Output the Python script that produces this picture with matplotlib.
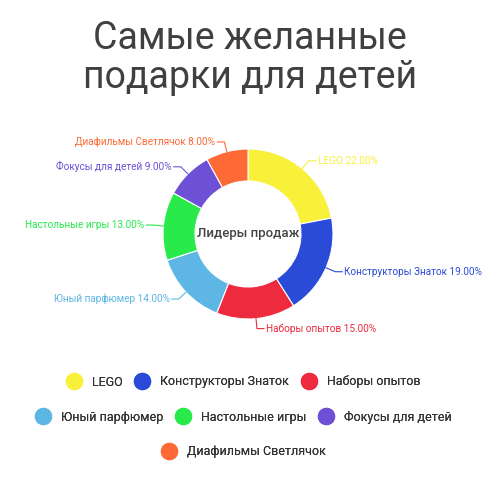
import numpy as np
import matplotlib
matplotlib.use("Agg")
from matplotlib import pyplot as plt
from matplotlib.lines import Line2D

plt.rcParams['font.family'] = ['Roboto', 'DejaVu Sans']

categories = ["LEGO", "Конструкторы Знаток", "Наборы опытов", "Юный парфюмер",
              "Настольные игры", "Фокусы для детей", "Диафильмы Светлячок"]
values = [22, 19, 15, 14, 13, 9, 8]
colors = ["#f9f03a", "#2a4bd7", "#ee2a3e", "#5db6e3", "#28ea4a", "#6e50d6", "#fd6a35"]
title = "Самые желанные\nподарки для детей"
center_text = "Лидеры продаж"

fig = plt.figure(figsize=(5, 5), dpi=100)
ax = fig.add_axes([0, 0, 1, 1])

cx, cy = 248, 266
r_out = 85
wedges, _ = ax.pie(values, colors=colors, startangle=90, counterclock=False,
                   radius=r_out, center=(cx, cy),
                   wedgeprops=dict(width=32, edgecolor="white", linewidth=0.8))

total = sum(values)
for w, name, v, c in zip(wedges, categories, values, colors):
    ang = np.deg2rad((w.theta1 + w.theta2) / 2)
    ex, ey = cx + r_out * np.cos(ang), cy + r_out * np.sin(ang)
    kx, ky = cx + 95 * np.cos(ang), cy + 95 * np.sin(ang)
    side = 1 if np.cos(ang) >= 0 else -1
    ax.plot([ex, kx, kx + side * 7], [ey, ky, ky], color=c, lw=0.8)
    ax.text(kx + side * 9, ky, f"{name} {v / total * 100:.2f}%", color=c,
            fontsize=7.2, ha="left" if side > 0 else "right", va="center")

ax.text(cx, cy, center_text, ha="center", va="center", fontsize=9.5,
        fontweight="medium", color="#444444")

ax.set_xlim(0, 500)
ax.set_ylim(0, 500)
ax.set_aspect("equal")
ax.axis("off")

fig.text(0.5, 0.884, title, ha="center", va="center", fontsize=27,
         color="#404040", linespacing=1.05)

rows = [[0, 1, 2], [3, 4, 5], [6]]
row_y = [1 - 382 / 500, 1 - 417 / 500, 1 - 452 / 500]
for idx, y in zip(rows, row_y):
    handles = [Line2D([], [], marker="o", linestyle="", markersize=11.5,
                      markerfacecolor=colors[i], markeredgecolor=colors[i])
               for i in idx]
    leg = fig.legend(handles, [categories[i] for i in idx], ncol=len(idx),
                     loc="center", bbox_to_anchor=(0.486, y), frameon=False,
                     fontsize=9, handlelength=1.3, handletextpad=0.8,
                     columnspacing=0.9, borderpad=0, labelcolor="#333333")
    fig.add_artist(leg)

fig.savefig("out.png", dpi=100, facecolor="white")
